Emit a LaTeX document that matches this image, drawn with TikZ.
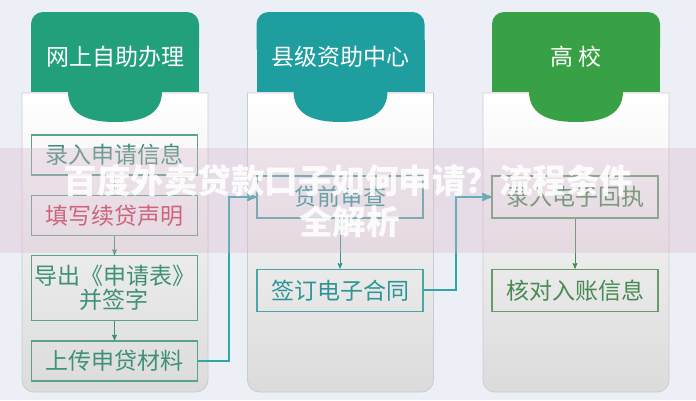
\documentclass[tikz,border=0pt]{standalone}
\usepackage{fontspec}
\newfontfamily\cjk{Noto Sans CJK SC}
\usetikzlibrary{arrows,positioning}
\definecolor{bgcol}{HTML}{EDEFF6}
\definecolor{onlinecol}{HTML}{22A07C}
\definecolor{countycol}{HTML}{1F9EA0}
\definecolor{schoolcol}{HTML}{38A045}
\definecolor{onlinetxt}{HTML}{3E9078}
\definecolor{countytxt}{HTML}{2E9596}
\definecolor{schooltxt}{HTML}{4A8A52}
\definecolor{redtxt}{HTML}{C8374E}
\definecolor{linkcol}{HTML}{2FA7A8}
\definecolor{bandcol}{HTML}{D9B9CF}
\tikzstyle{box} = [draw, line width=1.3pt, minimum width=166pt, minimum height=42pt,
	inner sep=0pt, font=\cjk\fontsize{23}{24}\selectfont]
\tikzstyle{flow} = [->,>=stealth',line width=1pt]
\tikzstyle{link} = [->,>=stealth',draw=linkcol,line width=2.2pt]
\tikzstyle{title} = [white,font=\cjk\fontsize{23}{24}\selectfont]

\begin{document}
\begin{tikzpicture}[x=1pt,y=-1pt,node distance=19pt]
	
	\fill[bgcol] (0,0) rectangle (696,400);
	\useasboundingbox (0,0) rectangle (696,400);
	
	% panels and header tabs
	\foreach \x/\col/\name in {115/onlinecol/网上自助办理,340.5/countycol/县级资助中心,576/schoolcol/高\ 校}{
		\shade[top color=white,bottom color=black!14,draw=black!20,line width=0.8pt]
		(\x-93,93) -- (\x+93,93) [rounded corners=12pt] -- (\x+93,392) -- (\x-93,392)
		[sharp corners] -- cycle;
		\fill[\col,rounded corners=12pt] (\x-84,12) rectangle (\x+84,60);
		\fill[\col] (\x-84,40) rectangle (\x+84,92);
		\fill[\col] (\x+47,91) .. controls (\x+47,113) and (\x+30,122) .. (\x,122)
		.. controls (\x-30,122) and (\x-47,113) .. (\x-47,91) -- cycle;
		\node[title] at (\x,57) {\name};
	}
	
	% online
	\node[box,draw=onlinetxt!85,text=onlinetxt,minimum height=40pt] (b1) at (114.5,155) {录入申请信息};
	\node[box,draw=onlinetxt!85,text=redtxt,minimum height=40pt] (b2) [below=of b1] {填写续贷声明};
	\node[box,draw=onlinetxt!85,text=onlinetxt,minimum height=65pt,align=center] (b3) [below=of b2]
	{导出《申请表》\\并签字};
	\node[box,draw=onlinetxt!85,text=onlinetxt,minimum height=40pt] (b4) [below=of b3] {上传申贷材料};
	
	% county
	\node[box,draw=countytxt!85,text=countytxt] (c1) at (340,197) {贷前审查};
	\node[box,draw=countytxt!85,text=countytxt] (c2) [below=50pt of c1] {签订电子合同};
	
	% school
	\node[box,draw=schooltxt!85,text=schooltxt] (d1) at (575,197) {录入电子回执};
	\node[box,draw=schooltxt!85,text=schooltxt] (d2) [below=50pt of d1] {核对入账信息};
	
	\path[flow,draw=onlinetxt] (b1) edge (b2) (b2) edge (b3) (b3) edge (b4);
	\draw[flow,draw=countytxt] (c1) -- (c2);
	\draw[flow,draw=schooltxt] (d1) -- (d2);
	
	\draw[link] (b4.east) -- ++(31,0) |- (c1.west);
	\draw[link] (c2.east) -- ++(32,0) |- (d1.west);
	
	% overlay band
	\fill[bandcol,opacity=0.35] (0,148) rectangle (696,253);
	\node[white,opacity=0.9,font=\cjk\bfseries\fontsize{33.5}{36}\selectfont] (t1) at (348.5,181)
	{百度外卖贷款口子如何申请？流程条件};
	\node[white,opacity=0.9,font=\cjk\bfseries\fontsize{33.5}{36}\selectfont] (t2) at (349.5,222) {全解析};
\end{tikzpicture}
\end{document}
